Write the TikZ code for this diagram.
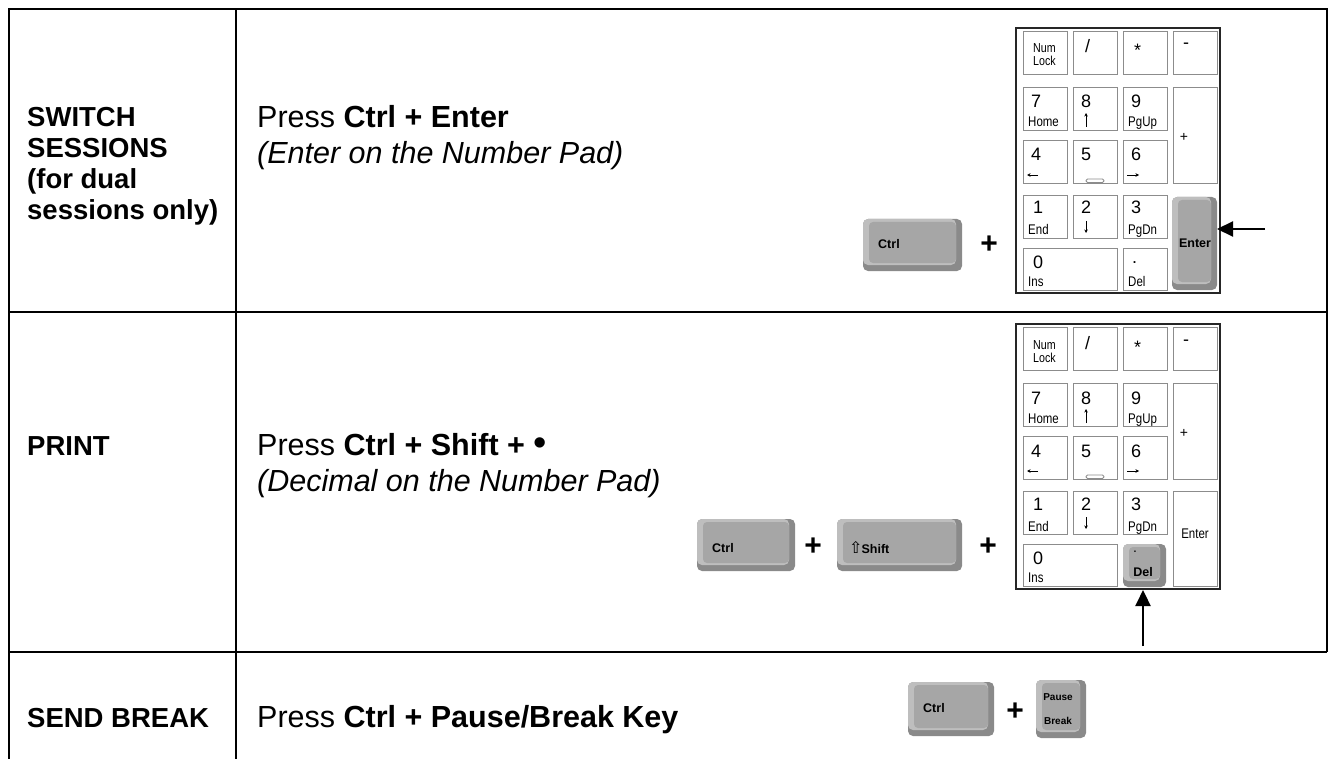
\documentclass[tikz,border=0pt]{standalone}
\usepackage{fontspec}
\setmainfont{Liberation Sans}
\newfontfamily\condfont[FakeStretch=0.82]{Liberation Sans}
\newfontfamily\djv{DejaVu Sans}
\usetikzlibrary{arrows.meta}
\definecolor{keyface}{HTML}{A6A6A6}
\definecolor{keylight}{HTML}{BEBEBE}
\definecolor{keydark}{HTML}{8A8A8A}
\definecolor{padline}{HTML}{8C8C8C}
\newcommand\keycap[4]{%
  \fill[keydark,rounded corners=5pt] (#1,#2) rectangle (#3,#4);
  \fill[keylight,rounded corners=5pt] (#1,#2) rectangle ({#3-6},{#4-6});
  \fill[keyface,rounded corners=4pt] ({#1+6},{#2+3}) rectangle ({#3-6},{#4-8});
}
\newcommand\padkeys[1]{%
  \draw[padbox] (1016,28) rectangle (1220,293);
  % row 1
  \draw[padkey] (1023,31) rectangle (1067,74);
  \draw[padkey] (1073,31) rectangle (1117,74);
  \draw[padkey] (1123,31) rectangle (1167,74);
  \draw[padkey] (1173,31) rectangle (1217,74);
  \node[sublbl,font=\fontsize{13}{13}\condfont] (#1num) at (1033,53) {Num};
  \node[sublbl,font=\fontsize{13}{13}\condfont] (#1lock) at (1033,66) {Lock};
  \node[diglbl] (#1slash) at (1085,53) {/};
  \node[diglbl] (#1star) at (1134,57) {*};
  \node[diglbl] (#1minus) at (1183,49) {-};
  % row 2
  \draw[padkey] (1023,87) rectangle (1067,130);
  \draw[padkey] (1073,87) rectangle (1117,130);
  \draw[padkey] (1123,87) rectangle (1167,130);
  \draw[padkey] (1173,87) rectangle (1217,183);
  \node[diglbl] (#1seven) at (1031,108) {7};
  \node[sublbl] (#1home) at (1028,127) {Home};
  \node[diglbl] (#1eight) at (1081,108) {8};
  \coordinate (#1upa) at (1086,127); \coordinate (#1upb) at (1086,113);
  \draw[tinyarrow] (#1upa) -- (#1upb);
  \node[diglbl] (#1nine) at (1131,108) {9};
  \node[sublbl] (#1pgup) at (1128,127) {PgUp};
  \node[inner sep=0pt,font=\fontsize{14}{14}\selectfont] (#1plus) at (1184,137) {+};
  % row 3
  \draw[padkey] (1023,140) rectangle (1067,183);
  \draw[padkey] (1073,140) rectangle (1117,183);
  \draw[padkey] (1123,140) rectangle (1167,183);
  \node[diglbl] (#1four) at (1031,161) {4};
  \coordinate (#1lfa) at (1038,175); \coordinate (#1lfb) at (1027,175);
  \draw[tinyarrow] (#1lfa) -- (#1lfb);
  \node[diglbl] (#1five) at (1081,161) {5};
  \draw[padline,line width=0.8pt,rounded corners=1.5pt] (1086,179) rectangle (1104,182.5);
  \node[diglbl] (#1six) at (1131,161) {6};
  \coordinate (#1rta) at (1127,175); \coordinate (#1rtb) at (1139,175);
  \draw[tinyarrow] (#1rta) -- (#1rtb);
  % row 4
  \draw[padkey] (1023,195) rectangle (1067,238);
  \draw[padkey] (1073,195) rectangle (1117,238);
  \draw[padkey] (1123,195) rectangle (1167,238);
  \node[diglbl] (#1one) at (1033,214) {1};
  \node[sublbl] (#1end) at (1028,235) {End};
  \node[diglbl] (#1two) at (1081,214) {2};
  \coordinate (#1dna) at (1086,221); \coordinate (#1dnb) at (1086,233);
  \draw[tinyarrow] (#1dna) -- (#1dnb);
  \node[diglbl] (#1three) at (1131,214) {3};
  \node[sublbl] (#1pgdn) at (1128,235) {PgDn};
  % row 5
  \draw[padkey] (1023,248) rectangle (1117,290);
  \node[diglbl] (#1zero) at (1033,268) {0};
  \node[sublbl] (#1ins) at (1028,286) {Ins};
}
\tikzset{
  tableline/.style={line width=2.2pt},
  hdrtxt/.style={anchor=base west,inner sep=0pt,font=\fontsize{27.5}{27.5}\selectfont\bfseries},
  bodytxt/.style={anchor=base west,inner sep=0pt,font=\fontsize{30.5}{30.5}\selectfont},
  keylbl/.style={inner sep=0pt,font=\fontsize{12.5}{12.5}\selectfont\bfseries},
  plussign/.style={inner sep=0pt,font=\fontsize{30}{30}\selectfont\bfseries},
  diglbl/.style={anchor=base west,inner sep=0pt,font=\fontsize{18}{18}\selectfont},
  sublbl/.style={anchor=base west,inner sep=0pt,font=\fontsize{14}{14}\condfont},
  padkey/.style={draw=padline,line width=0.9pt,fill=white},
  padbox/.style={draw=black!85,line width=1.4pt,fill=white},
  pointer/.style={line width=2.2pt,-{Triangle[length=16pt,width=15pt]}},
  tinyarrow/.style={line width=0.7pt,-{Stealth[length=3.5pt,width=3.5pt]}}
}
\begin{document}
\begin{tikzpicture}[x=1pt,y=-1pt]
\useasboundingbox (0,0) rectangle (1329,759);
\fill[white] (0,0) rectangle (1329,759);
% table lines
\draw[tableline] (9,759) -- (9,9) -- (1327,9) -- (1327,652);
\draw[tableline] (236,9) -- (236,759);
\draw[tableline] (9,312) -- (1327,312);
\draw[tableline] (9,652) -- (1327,652);

% ---- row 1
\node[hdrtxt] (h1a) at (27,127) {SWITCH};
\node[hdrtxt] (h1b) at (27,158) {SESSIONS};
\node[hdrtxt] (h1c) at (27,189) {(for dual};
\node[hdrtxt] (h1d) at (27,220) {sessions only)};
\node[bodytxt] (p1a) at (257,128) {Press \textbf{Ctrl + Enter}};
\node[bodytxt] (p1b) at (257,164) {\itshape (Enter on the Number Pad)};
\keycap{863}{219}{962}{271}
\node[keylbl,anchor=west] (ctrlA) at (878,244) {Ctrl};
\node[plussign] (plusA) at (989,245) {+};
\padkeys{pa}
\draw[padkey] (1123,248) rectangle (1167,290);
\node[diglbl] (padot) at (1132,263) {.};
\node[sublbl] (padel) at (1128,286) {Del};
\keycap{1172}{197}{1217}{290}
\node[keylbl] (paenter) at (1195,243) {Enter};
\coordinate (arrA) at (1265,229);
\coordinate (enterR) at (1217,229);
\draw[pointer] (arrA) -- (enterR);

% ---- row 2
\node[hdrtxt] (h2) at (27,455) {PRINT};
\node[bodytxt] (p2a) at (257,455) {Press \textbf{Ctrl + Shift +} {\fontsize{38}{38}\selectfont\textbullet}};
\node[bodytxt] (p2b) at (257,491) {\itshape (Decimal on the Number Pad)};
\keycap{697}{519}{795}{571}
\node[keylbl,anchor=west] (ctrlB) at (712,548) {Ctrl};
\node[plussign] (plusB) at (813,547) {+};
\keycap{837}{519}{962}{571}
\node[keylbl,anchor=west] (shiftB) at (849,548) {{\djv\fontsize{16}{16}\selectfont\mdseries ⇧}\kern-1pt Shift};
\node[plussign] (plusC) at (988,547) {+};
\begin{scope}[shift={(0,296)}]
\padkeys{pb}
\draw[padkey] (1173,195) rectangle (1217,290);
\node[sublbl,anchor=center] (pbenter) at (1195,238) {Enter};
\keycap{1123}{248}{1166}{291}
\node[diglbl,font=\fontsize{14}{14}\selectfont] (pbdot) at (1133,256) {.};
\node[keylbl] (pbdel) at (1143,276) {Del};
\coordinate (delB) at (1143,294);
\coordinate (arrB) at (1143,350);
\end{scope}
\draw[pointer] (arrB) -- (delB);

% ---- row 3
\node[hdrtxt] (h3) at (27,727) {SEND BREAK};
\node[bodytxt] (p3) at (257,727) {Press \textbf{Ctrl + Pause/Break Key}};
\keycap{908}{682}{994}{736}
\node[keylbl,anchor=west] (ctrlC) at (923,708) {Ctrl};
\node[plussign] (plusD) at (1015,712) {+};
\keycap{1036}{680}{1086}{738}
\node[keylbl,font=\fontsize{10}{10}\selectfont\bfseries] (pause) at (1058,697) {Pause};
\node[keylbl,font=\fontsize{10}{10}\selectfont\bfseries] (brk) at (1058,721) {Break};
\end{tikzpicture}
\end{document}
